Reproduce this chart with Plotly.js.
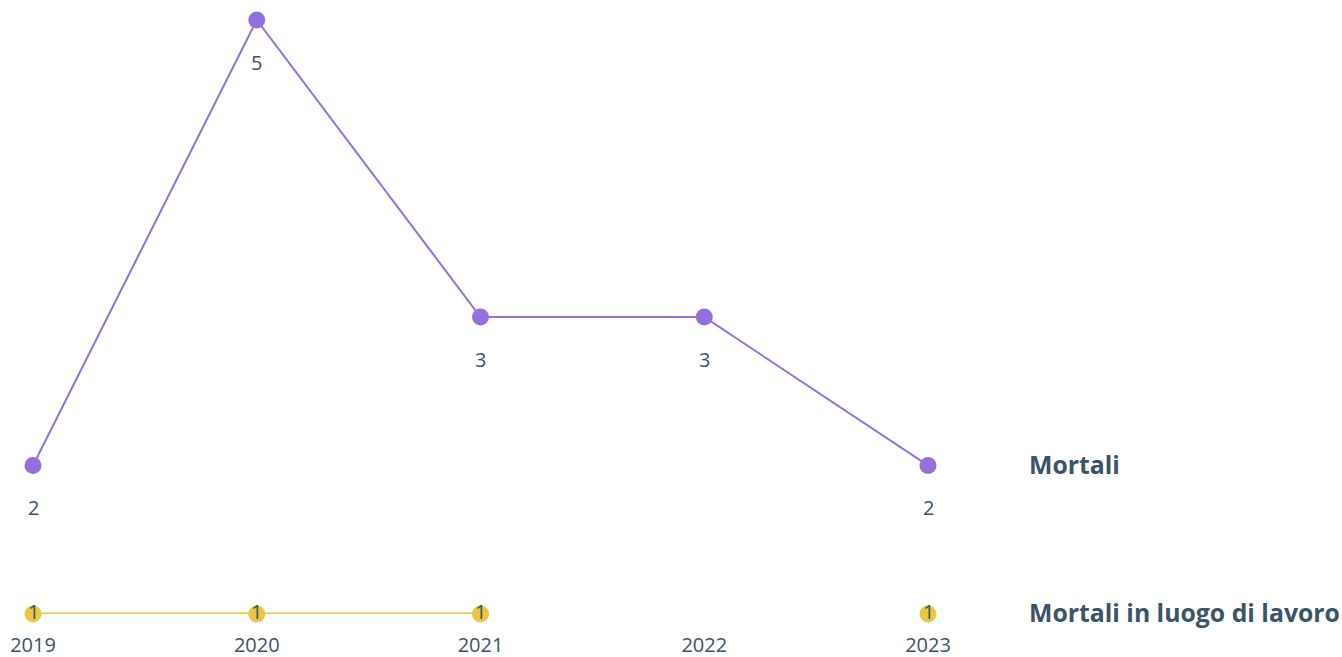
<!DOCTYPE html>
<html>
<head>
<meta charset="utf-8">
<script src="https://cdn.plot.ly/plotly-3.0.1.min.js"></script>
<style>html,body{margin:0;padding:0;background:#fff;}#chart{width:1342px;height:657px;}</style>
</head>
<body>
<div id="chart"></div>
<script>
const years = [2019, 2020, 2021, 2022, 2023];
const mortali = [2, 5, 3, 3, 2];
const mortaliLavoro = [1, 1, 1, null, 1];
const seriesNames = ["Mortali", "Mortali in luogo di lavoro"];

const textColor = "#3d5366";
const font = "'Segoe UI', 'Open Sans', 'Noto Sans', sans-serif";
const purple = "#9370db";
const yellow = "#eac645";

const traces = [
  {
    x: years, y: mortali, type: "scatter", mode: "lines+markers",
    line: {color: purple, width: 2},
    marker: {color: purple, size: 17},
    cliponaxis: false, hoverinfo: "x+y", name: seriesNames[0]
  },
  {
    x: years, y: mortaliLavoro, type: "scatter", mode: "lines+markers",
    line: {color: yellow, width: 3.2},
    marker: {color: yellow, size: 17},
    cliponaxis: false, connectgaps: false, hoverinfo: "x+y", name: seriesNames[1]
  }
];

const annotations = [];
years.forEach((yr, i) => {
  if (mortali[i] != null) {
    annotations.push({
      x: yr, y: mortali[i], text: String(mortali[i]), showarrow: false,
      yshift: -42, font: {family: font, size: 20, color: textColor}
    });
  }
  if (mortaliLavoro[i] != null) {
    annotations.push({
      x: yr, y: mortaliLavoro[i], text: String(mortaliLavoro[i]), showarrow: false,
      yshift: 3, xshift: 0, font: {family: font, size: 20, color: textColor}
    });
  }
});
const lastIdx = years.length - 1;
[mortali, mortaliLavoro].forEach((s, k) => {
  annotations.push({
    x: years[lastIdx], y: s[lastIdx], text: "<b>" + seriesNames[k] + "</b>",
    showarrow: false, xanchor: "left", xshift: 99, yshift: 2,
    font: {family: font, size: 24.8, color: textColor}
  });
});

const layout = {
  width: 1342, height: 657,
  margin: {l: 33, r: 414, t: 20, b: 43},
  paper_bgcolor: "#fff", plot_bgcolor: "#fff",
  showlegend: false,
  xaxis: {
    range: [2019, 2023], tickvals: years, ticktext: years.map(String),
    showgrid: false, zeroline: false, showline: false, ticks: "",
    ticklabelstandoff: 17,
    tickfont: {family: font, size: 20, color: textColor}
  },
  yaxis: {
    range: [1, 5], visible: false, showgrid: false, zeroline: false
  },
  annotations: annotations
};

Plotly.newPlot("chart", traces, layout, {displayModeBar: false, staticPlot: true});
</script>
</body>
</html>
